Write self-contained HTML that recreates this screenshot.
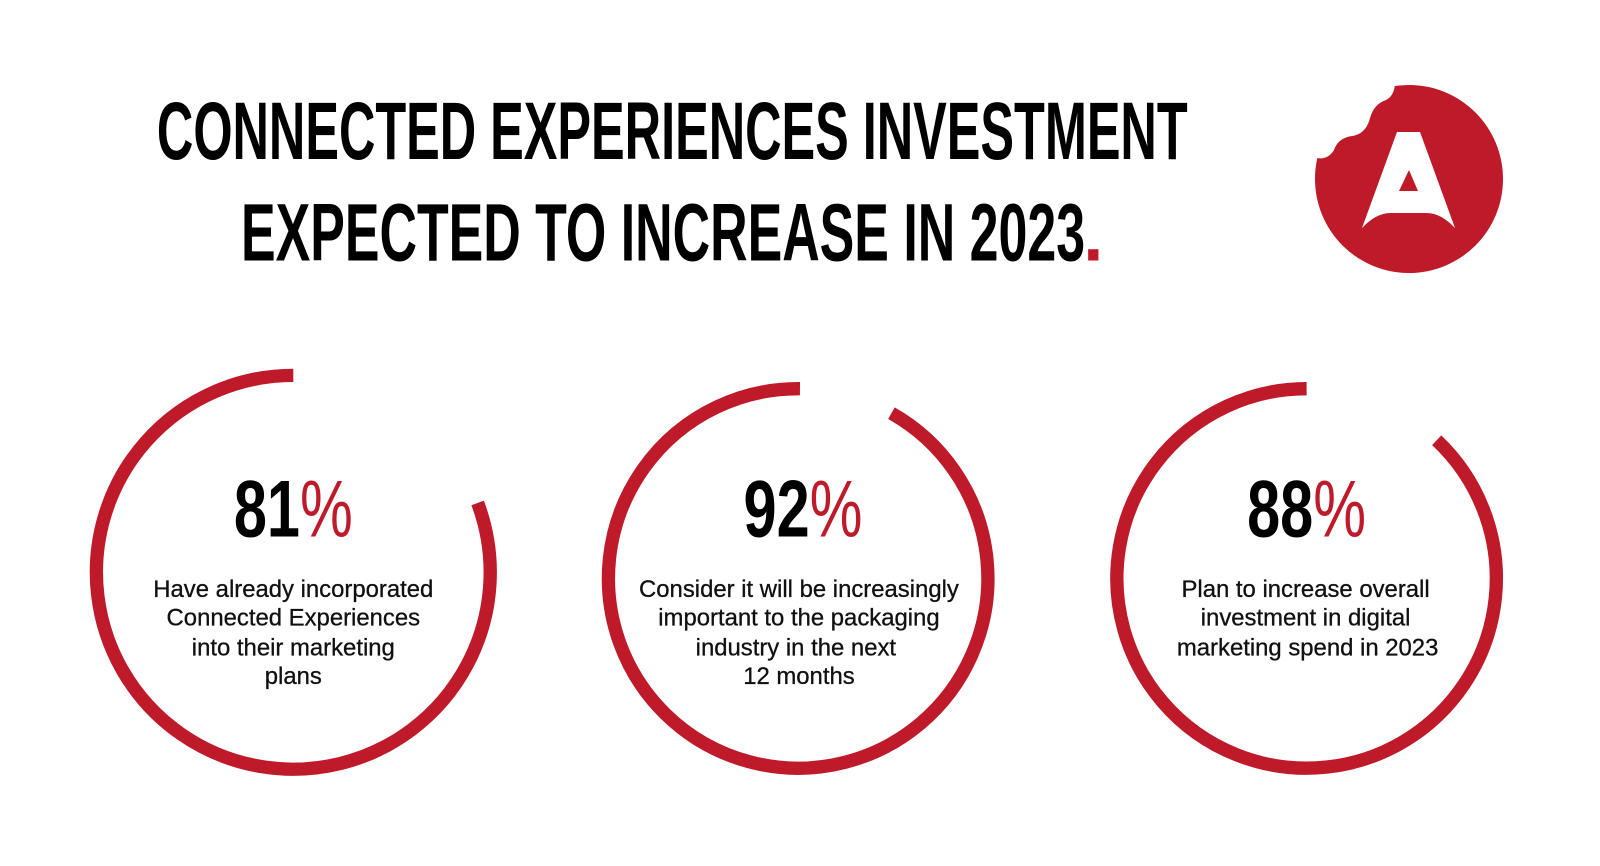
<!DOCTYPE html>
<html><head><meta charset="utf-8"><style>
html,body{margin:0;padding:0;background:#fff;}
svg{display:block}
.t{font-family:"Liberation Sans",sans-serif;font-weight:bold;fill:#000}
.b{font-family:"Liberation Sans",sans-serif;font-size:23.3px;fill:#111;text-anchor:middle;stroke:#111;stroke-width:0.3}
</style></head><body>
<svg width="1600" height="866" viewBox="0 0 1600 866" xmlns="http://www.w3.org/2000/svg">
<rect width="1600" height="866" fill="#fff"/>
<g transform="scale(1.0256)">
<text class="t" x="153" y="155" font-size="80" textLength="1005" lengthAdjust="spacingAndGlyphs">CONNECTED EXPERIENCES INVESTMENT</text>
<text class="t" x="235" y="254" font-size="80" textLength="823" lengthAdjust="spacingAndGlyphs">EXPECTED TO INCREASE IN 2023</text>
<rect x="1061" y="243" width="10" height="11" fill="#be1a2a"/>
<g transform="translate(-2,-3)">
<g fill="none" stroke="#be1a2a" stroke-width="13">
<path d="M288 369 A192 192 0 1 0 467.7 493.4"/>
<path d="M782 382 A185 185 0 1 0 871.2 405.9"/>
<path d="M1276 382 A185 185 0 1 0 1402.8 432.3"/>
</g>
<g class="t" font-size="79" text-anchor="middle">
<text x="288" y="526" textLength="116" lengthAdjust="spacingAndGlyphs">81<tspan fill="#be1a2a" font-weight="normal">%</tspan></text>
<text x="785" y="526" textLength="116" lengthAdjust="spacingAndGlyphs">92<tspan fill="#be1a2a" font-weight="normal">%</tspan></text>
<text x="1276" y="526" textLength="116" lengthAdjust="spacingAndGlyphs">88<tspan fill="#be1a2a" font-weight="normal">%</tspan></text>
</g>
<text class="b" x="288" y="585">Have already incorporated</text>
<text class="b" x="288" y="613">Connected Experiences</text>
<text class="b" x="288" y="642">into their marketing</text>
<text class="b" x="288" y="670">plans</text>
<text class="b" x="781" y="585">Consider it will be increasingly</text>
<text class="b" x="781" y="613">important to the packaging</text>
<text class="b" x="778" y="642">industry in the next</text>
<text class="b" x="781" y="670">12 months</text>
<text class="b" x="1275" y="585">Plan to increase overall</text>
<text class="b" x="1275" y="613">investment in digital</text>
<text class="b" x="1277" y="642">marketing spend in 2023</text>
</g>
</g>
<g>
<circle cx="1409" cy="179" r="94" fill="#be1a2a"/>
<path d="M1305 160 L1317 158 Q1328 160 1334 150 Q1338 138 1352 136 Q1366 134 1370 118 Q1374 104 1386 100 Q1394 96 1395 84 L1395 60 L1300 60 Z" fill="#fff"/>
<path d="M1397 132 L1420 132 L1455 228 Q1440 212 1425 213 L1392 213 Q1377 212 1362 228 Z" fill="#fff"/>
<path d="M1409 170 L1418 191 L1399 191 Z" fill="#be1a2a"/>
</g>
</svg>
</body></html>
